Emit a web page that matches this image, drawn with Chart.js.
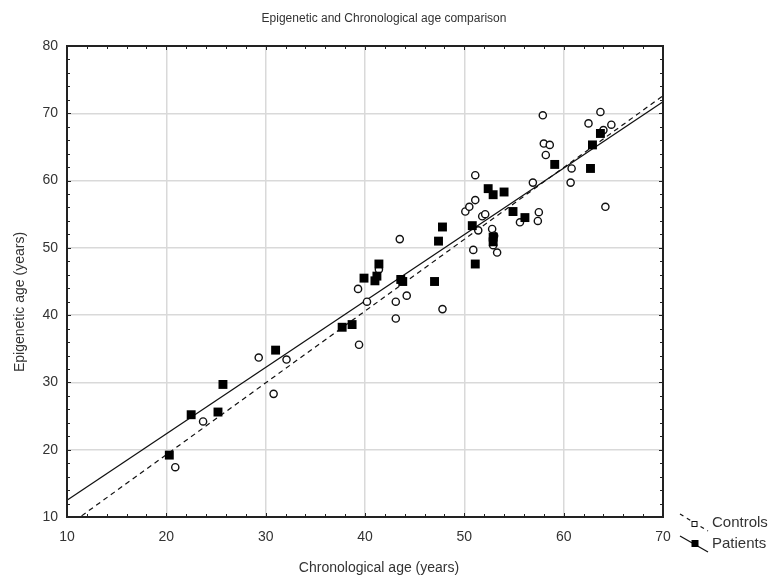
<!DOCTYPE html>
<html>
<head>
<meta charset="utf-8">
<script src="https://cdn.jsdelivr.net/npm/chart.js@4.4.1/dist/chart.umd.min.js"></script>
<style>
  html, body { margin: 0; padding: 0; background: #fff; }
</style>
</head>
<body>
<canvas id="grafico" width="768" height="578"></canvas>
<script>
// valores
const controlsX = [20.9, 23.7, 29.3, 30.8, 32.1, 39.4, 39.3, 40.2, 41.4, 43.1, 44.2, 43.1, 43.5, 47.8,
  50.9, 50.1, 50.5, 51.1, 51.1, 51.4, 51.8, 52.1, 52.8, 53.0, 52.9, 53.3, 55.6, 56.9, 57.4, 57.5,
  57.9, 58.0, 58.6, 58.2, 60.8, 60.7, 62.5, 63.7, 64.8, 64.2, 64.0];
const controlsY = [17.4, 24.2, 33.7, 28.3, 33.4, 35.6, 43.9, 42.0, 46.8, 42.0, 42.9, 39.5, 51.3, 40.9,
  49.7, 55.4, 56.1, 57.1, 60.8, 52.6, 54.7, 55.0, 52.8, 51.8, 50.4, 49.3, 53.8, 59.7, 54.0, 55.3,
  69.7, 65.5, 65.3, 63.8, 61.8, 59.7, 68.5, 70.2, 68.3, 56.1, 67.5];

const patientsX = [20.3, 22.5, 25.2, 25.7, 31.0, 37.7, 38.7, 39.9, 41.0, 41.2, 41.4, 43.6, 43.8, 47.0,
  47.4, 47.8, 50.8, 51.1, 52.4, 52.9, 54.0, 54.9, 56.1, 52.9, 52.9, 59.1, 62.7, 62.9, 63.7];
const patientsY = [19.2, 25.2, 25.6, 29.7, 34.8, 38.2, 38.6, 45.5, 45.1, 45.8, 47.6, 45.3, 45.0, 45.0,
  51.0, 53.1, 53.3, 47.6, 58.8, 57.9, 58.3, 55.4, 54.5, 51.6, 50.9, 62.4, 61.8, 65.3, 67.0];

// retas de regressão (extremos)
const fitX = [10, 70];
const fitControlsY = [8.6, 72.6];
const fitPatientsY = [12.5, 71.7];

const xTicks = [10, 20, 30, 40, 50, 60, 70];
const yTicks = [10, 20, 30, 40, 50, 60, 70, 80];

const fonte = 'Liberation Sans, Arial, sans-serif';
const corTexto = '#333';

function pares(xs, ys) {
  return xs.map((x, i) => ({ x: x, y: ys[i] }));
}

// moldura, tracinhos internos, títulos e legenda
const moldura = {
  id: 'moldura',
  afterDraw(chart) {
    const ctx = chart.ctx;
    const a = chart.chartArea;
    const sx = chart.scales.x, sy = chart.scales.y;
    ctx.save();
    ctx.strokeStyle = '#222';
    ctx.lineWidth = 1;
    for (let v = xTicks[0]; v <= xTicks[xTicks.length - 1]; v += 2) {
      const px = Math.round(sx.getPixelForValue(v)) + 0.5;
      const len = v % 10 === 0 ? 4 : 3;
      ctx.beginPath();
      ctx.moveTo(px, a.bottom); ctx.lineTo(px, a.bottom - len);
      ctx.moveTo(px, a.top); ctx.lineTo(px, a.top + len);
      ctx.stroke();
    }
    for (let v = yTicks[0]; v <= yTicks[yTicks.length - 1]; v += 2) {
      const py = Math.round(sy.getPixelForValue(v)) + 0.5;
      const len = v % 10 === 0 ? 4 : 3;
      ctx.beginPath();
      ctx.moveTo(a.left, py); ctx.lineTo(a.left + len, py);
      ctx.moveTo(a.right, py); ctx.lineTo(a.right - len, py);
      ctx.stroke();
    }
    ctx.lineWidth = 2;
    ctx.strokeRect(a.left, a.top, a.right - a.left, a.bottom - a.top);

    ctx.fillStyle = corTexto;
    ctx.textAlign = 'center';
    ctx.textBaseline = 'middle';
    ctx.font = '12px ' + fonte;
    ctx.fillText('Epigenetic and Chronological age comparison', 384, 19);

    ctx.font = '14px ' + fonte;
    ctx.fillText('Chronological age (years)', 379, 568);
    ctx.save();
    ctx.translate(20, 302);
    ctx.rotate(-Math.PI / 2);
    ctx.fillText('Epigenetic age (years)', 0, 0);
    ctx.restore();

    // legenda
    ctx.font = '15px ' + fonte;
    ctx.textAlign = 'left';
    ctx.strokeStyle = '#111';
    ctx.lineWidth = 1.2;
    ctx.setLineDash([4, 4]);
    ctx.beginPath(); ctx.moveTo(680, 514); ctx.lineTo(708, 531); ctx.stroke();
    ctx.setLineDash([]);
    ctx.fillStyle = '#fff';
    ctx.fillRect(692, 521.5, 5, 5);
    ctx.lineWidth = 1;
    ctx.strokeRect(692, 521.5, 5, 5);
    ctx.lineWidth = 1.2;
    ctx.beginPath(); ctx.moveTo(680, 536); ctx.lineTo(708, 552); ctx.stroke();
    ctx.fillStyle = '#000';
    ctx.fillRect(691.5, 540, 7, 7);
    ctx.fillStyle = corTexto;
    ctx.fillText('Controls', 712, 523);
    ctx.fillText('Patients', 712, 544);
    ctx.restore();
  }
};

const eixo = (ticks, tamanho, afastamento) => ({
  type: 'linear',
  min: ticks[0],
  max: ticks[ticks.length - 1],
  afterBuildTicks: (s) => { s.ticks = ticks.map(v => ({ value: v })); },
  afterFit: tamanho,
  border: { display: false },
  grid: { color: '#d9d9d9', lineWidth: 1.5, drawTicks: false },
  ticks: { color: corTexto, font: { family: fonte, size: 14 }, padding: afastamento }
});

const ctx = document.getElementById('grafico').getContext('2d');
const grafico = new Chart(ctx, {
  type: 'scatter',
  data: {
    datasets: [
      {
        label: 'Patients',
        data: pares(patientsX, patientsY),
        pointStyle: 'rect',
        pointRadius: 6.3,
        backgroundColor: '#000',
        borderWidth: 0
      },
      {
        label: 'Controls',
        data: pares(controlsX, controlsY),
        pointStyle: 'circle',
        pointRadius: 3.6,
        backgroundColor: '#fff',
        borderColor: '#111',
        borderWidth: 1.4
      },
      {
        label: 'Patients fit',
        data: pares(fitX, fitPatientsY),
        showLine: true,
        pointRadius: 0,
        borderColor: '#111',
        borderWidth: 1.2
      },
      {
        label: 'Controls fit',
        data: pares(fitX, fitControlsY),
        showLine: true,
        pointRadius: 0,
        borderColor: '#111',
        borderWidth: 1.2,
        borderDash: [5, 4]
      }
    ]
  },
  options: {
    responsive: false,
    animation: false,
    devicePixelRatio: 1,
    layout: { padding: { left: 0, top: 46, right: 105, bottom: 0 } },
    plugins: {
      legend: { display: false },
      tooltip: { enabled: false }
    },
    scales: {
      x: eixo(xTicks, (s) => { s.height = 61; }, 12),
      y: eixo(yTicks, (s) => { s.width = 67; }, 9)
    }
  },
  plugins: [moldura]
});
</script>
</body>
</html>
